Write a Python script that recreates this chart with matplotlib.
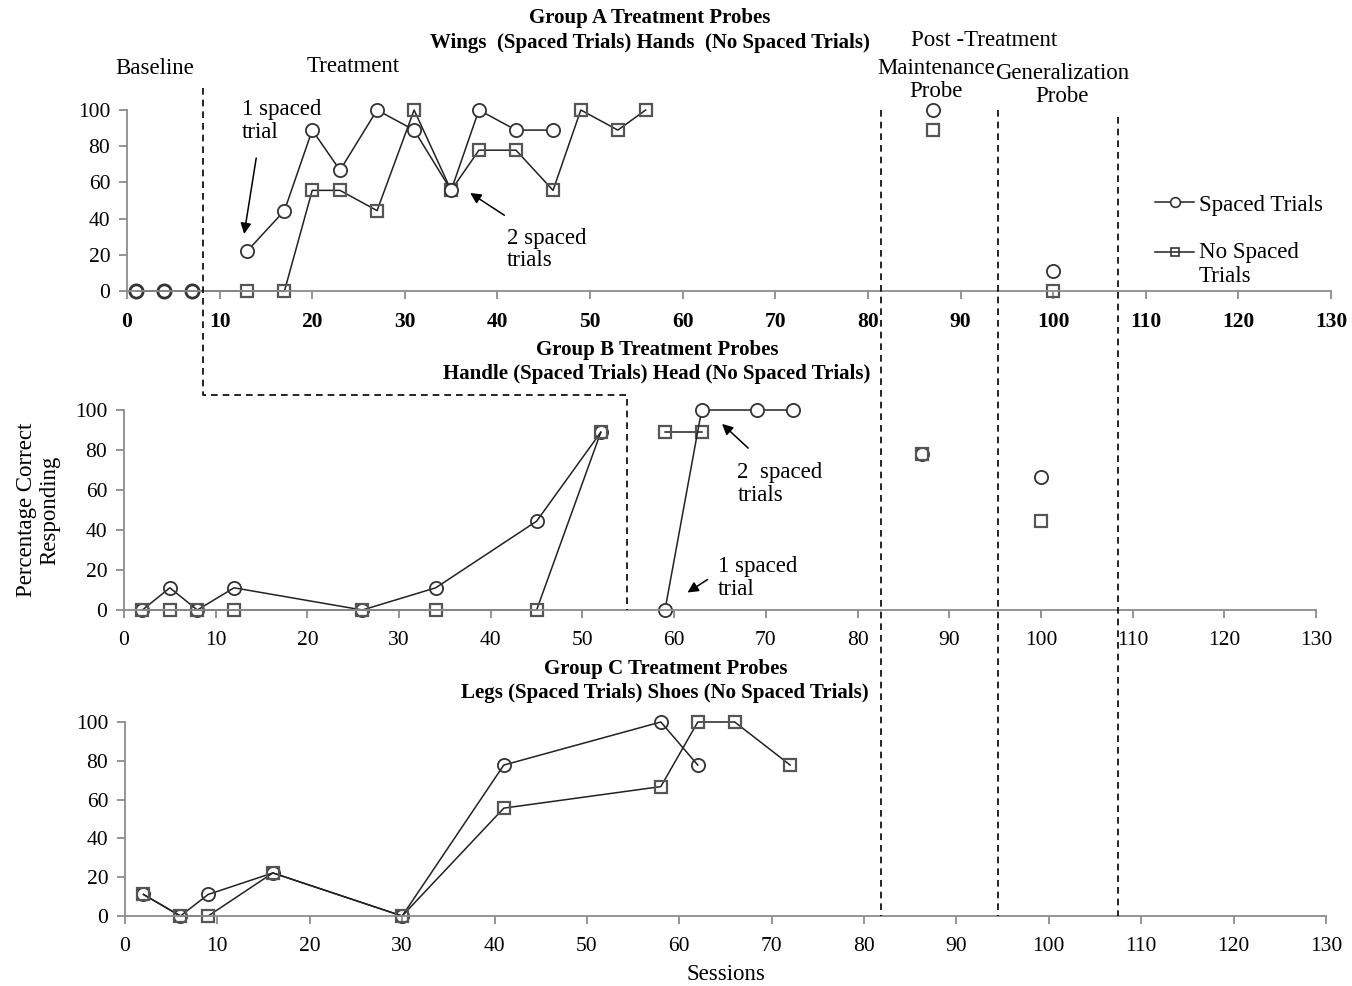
import numpy as np
import matplotlib
matplotlib.use("Agg")
import matplotlib.pyplot as plt
from matplotlib.lines import Line2D
from matplotlib.legend_handler import HandlerLine2D

plt.rcParams["font.family"] = ["Liberation Serif", "DejaVu Serif"]
plt.rcParams["font.size"] = 16.5

# ---- data (percentage correct per session) ----
# Group A: Wings = spaced trials, Hands = no spaced trials
a_base_x = [1, 4, 7]
a_base_sp = [0, 0, 0]
a_sp_x = [13, 17, 20, 23, 27, 31, 35, 38, 42, 46]
a_sp_y = [22.2, 44.4, 88.9, 66.7, 100, 88.9, 55.6, 100, 88.9, 88.9]
a_ns_x = [1, 4, 7, 13, 17, 20, 23, 27, 31, 35, 38, 42, 46, 49, 53, 56]
a_ns_y = [0, 0, 0, 0, 0, 55.6, 55.6, 44.4, 100, 55.6, 77.8, 77.8, 55.6, 100, 88.9, 100]

# Group B: Handle = spaced trials, Head = no spaced trials
b_base_x = [2, 5, 8, 12, 26, 34, 45, 52]
b_base_sp = [0, 11.1, 0, 11.1, 0, 11.1, 44.4, 88.9]
b_base_ns = [0, 0, 0, 0, 0, 0, 0, 88.9]
b_sp_x = [59, 63, 69, 73]
b_sp_y = [0, 100, 100, 100]
b_ns_x = [59, 63]
b_ns_y = [88.9, 88.9]

# Group C: Legs = spaced trials, Shoes = no spaced trials
c_sp_x = [2, 6, 9, 16, 30, 41, 58, 62]
c_sp_y = [11.1, 0, 11.1, 22.2, 0, 77.8, 100, 77.8]
c_ns_x = [2, 6, 9, 16, 30, 41, 58, 62, 66, 72]
c_ns_y = [11.1, 0, 0, 22.2, 0, 55.6, 66.7, 100, 100, 77.8]

# post-treatment probes: maintenance, generalization
post_x = [87, 100]
a_post_sp = [100, 11.1]
a_post_ns = [88.9, 0]
b_post_sp = [77.8, 66.7]
b_post_ns = [77.8, 44.4]

# phase change lines (sessions, read on the group A axis)
phase_x = [81.4, 94.0, 107.0]
phase_top = [100, 100, 96]
base_end_a = 8.2
base_end_b = 54.9

xticks = list(range(0, 131, 10))
yticks = list(range(0, 101, 20))

W, H = 1352, 986
fig = plt.figure(figsize=(W / 100, H / 100), dpi=100)

def px_rect(left, right, y0, y100):
    return [left / W, 1 - y0 / H, (right - left) / W, (y0 - y100) / H]

ax_a = fig.add_axes(px_rect(127, 1331, 291, 110))
ax_b = fig.add_axes(px_rect(124, 1316, 610, 410))
ax_c = fig.add_axes(px_rect(125, 1326, 916, 722))

circ = dict(marker="o", ms=9.5, mfc="white", mec="#333333", mew=1.3, clip_on=False)
sqr = dict(marker="s", ms=8, mfc="none", mec="#555555", mew=1.6, clip_on=False)
ln = dict(color="#222222", lw=1.1)

for ax in (ax_a, ax_b, ax_c):
    ax.set_xlim(0, 130)
    ax.set_ylim(0, 100)
    ax.set_xticks(xticks)
    ax.set_yticks(yticks)
    for s in ("top", "right"):
        ax.spines[s].set_visible(False)
    for s in ("left", "bottom"):
        ax.spines[s].set_color("#8c8c8c")
        ax.spines[s].set_linewidth(1.3)
    ax.tick_params(direction="out", length=6, width=1.3, color="#8c8c8c",
                   labelsize=15.5)
    ax.tick_params(axis="x", pad=9)
    ax.tick_params(axis="y", pad=6)
    ax.patch.set_alpha(0)

for lab in ax_a.get_xticklabels():
    lab.set_fontweight("bold")

# group A
ax_a.plot(a_base_x, a_base_sp, **ln, **dict(circ, mew=2.0))
ax_a.plot(a_ns_x, a_ns_y, **ln, **sqr, markevery=list(range(3, len(a_ns_x))))
ax_a.plot(a_sp_x, a_sp_y, **ln, **circ)
ax_a.plot(post_x, a_post_sp, ls="none", **circ)
ax_a.plot(post_x, a_post_ns, ls="none", **sqr)

# group B
ax_b.plot(b_base_x, b_base_sp, **ln, **dict(circ, mfc="none"))
ax_b.plot(b_base_x, b_base_ns, **ln, **sqr)
ax_b.plot(b_ns_x, b_ns_y, **ln, **sqr)
ax_b.plot(b_sp_x, b_sp_y, **ln, **circ)
ax_b.plot(post_x, b_post_sp, ls="none", **dict(circ, mfc="none"))
ax_b.plot(post_x, b_post_ns, ls="none", **sqr)

# group C
ax_c.plot(c_sp_x, c_sp_y, **ln, **dict(circ, mfc="none"))
ax_c.plot(c_ns_x, c_ns_y, **ln, **sqr)

# annotations with arrows
arw = dict(arrowstyle="-|>", color="black", lw=1.1, mutation_scale=16)
note = dict(ha="left", va="top", linespacing=1.1)
ax_a.text(12.4, 106, "1 spaced\ntrial", **note)
ax_a.annotate("", xy=(12.6, 30), xytext=(14.0, 75), arrowprops=arw)
ax_a.text(41.0, 35, "2 spaced\ntrials", **note)
ax_a.annotate("", xy=(36.8, 55), xytext=(41.0, 41), arrowprops=arw)
ax_b.text(66.9, 74, "2  spaced\ntrials", **note)
ax_b.annotate("", xy=(65.0, 94), xytext=(68.3, 80), arrowprops=arw)
ax_b.text(64.8, 27, "1 spaced\ntrial", **note)
ax_b.annotate("", xy=(61.2, 8), xytext=(63.9, 16), arrowprops=arw)


class FirstLineHandler(HandlerLine2D):
    """Puts the legend symbol level with the first line of a two-line label."""

    def create_artists(self, legend, orig_handle, xdescent, ydescent,
                       width, height, fontsize, trans):
        arts = super().create_artists(legend, orig_handle, xdescent, ydescent,
                                      width, height, fontsize, trans)
        for a in arts:
            a.set_ydata(np.asarray(a.get_ydata()) + 0.55 * fontsize)
        return arts


# legend
handles = [Line2D([], [], **ln, marker="o", ms=7, mfc="white", mec="#333333", mew=1.2),
           Line2D([], [], **ln, marker="s", ms=6, mfc="none", mec="#333333", mew=1.2)]
fig.legend(handles, ["Spaced Trials", "No Spaced\nTrials"], loc="upper left",
           bbox_to_anchor=(1144 / W, 1 - 183 / H), frameon=False, borderpad=0,
           handlelength=1.7, handletextpad=0.2, labelspacing=1.15, fontsize=16.5,
           handler_map={handles[1]: FirstLineHandler()})

# dashed phase lines, drawn across the panels in figure coordinates
to_fig = fig.transFigure.inverted()

def fig_pt(ax, x, y):
    return to_fig.transform(ax.transData.transform((x, y)))

dash = dict(color="black", lw=1.2, ls=(0, (4, 3)), transform=fig.transFigure)
for x, top in zip(phase_x, phase_top):
    p0 = fig_pt(ax_a, x, top)
    p1 = fig_pt(ax_c, 0, 0)
    fig.add_artist(Line2D([p0[0], p0[0]], [p0[1], p1[1]], **dash))

s0 = fig_pt(ax_a, base_end_a, 112)
s1 = fig_pt(ax_b, base_end_b, 107.5)
s2 = fig_pt(ax_b, base_end_b, 0)
fig.add_artist(Line2D([s0[0], s0[0], s1[0], s2[0]], [s0[1], s1[1], s1[1], s2[1]], **dash))

# titles and phase labels
bold = dict(ha="center", va="center", fontweight="bold", fontsize=15)
reg = dict(ha="center", va="center", fontsize=16.5, linespacing=1.12)
fig.text(650 / W, 1 - 18 / H, "Group A Treatment Probes", **bold)
fig.text(650 / W, 1 - 43 / H, "Wings  (Spaced Trials) Hands  (No Spaced Trials)", **bold)
fig.text(657 / W, 1 - 350 / H, "Group B Treatment Probes", **bold)
fig.text(657 / W, 1 - 374 / H, "Handle (Spaced Trials) Head (No Spaced Trials)", **bold)
fig.text(666 / W, 1 - 669 / H, "Group C Treatment Probes", **bold)
fig.text(665 / W, 1 - 693 / H, "Legs (Spaced Trials) Shoes (No Spaced Trials)", **bold)

fig.text(155 / W, 1 - 69 / H, "Baseline", **reg)
fig.text(353 / W, 1 - 66 / H, "Treatment", **reg)
fig.text(984 / W, 1 - 41 / H, "Post -Treatment", **reg)
fig.text(936 / W, 1 - 80 / H, "Maintenance\nProbe", multialignment="center", **reg)
fig.text(1062 / W, 1 - 85 / H, "Generalization\nProbe", multialignment="center", **reg)

fig.text(38 / W, 1 - 510 / H, "Percentage Correct\nResponding", rotation=90,
         multialignment="center", **reg)
fig.text(726 / W, 1 - 975 / H, "Sessions", **reg)

fig.savefig("out.png", dpi=100, facecolor="white")
